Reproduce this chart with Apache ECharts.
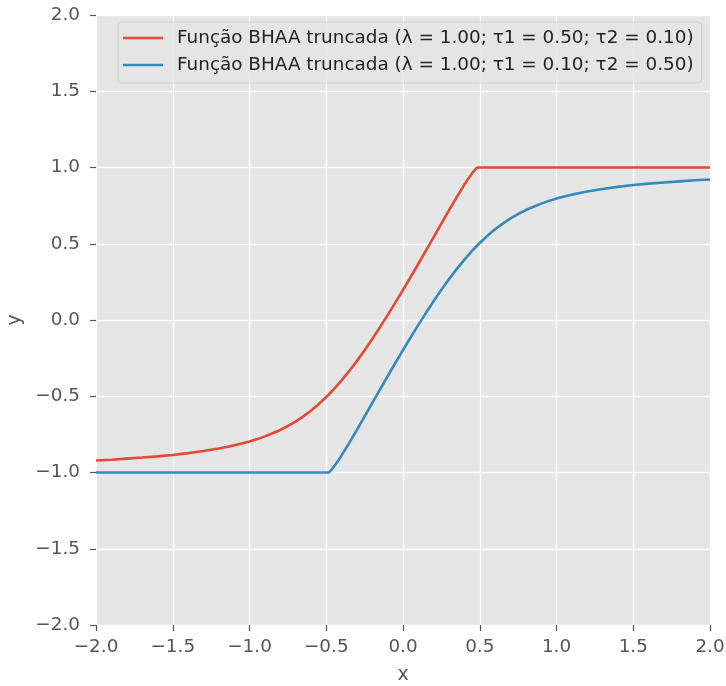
<!DOCTYPE html>
<html>
<head>
<meta charset="utf-8">
<script src="https://cdn.jsdelivr.net/npm/echarts@6/dist/echarts.min.js"></script>
<style>
html,body{margin:0;padding:0;background:#fff;}
#chart{width:726px;height:686px;}
</style>
</head>
<body>
<div id="chart"></div>
<script>
// x positions of the sampled points
const xs = [-2.0,-1.9,-1.8,-1.7,-1.6,-1.5,-1.4,-1.3,-1.2,
  -1.15,-1.1,-1.05,-1.0,-0.95,-0.9,-0.85,-0.8,-0.75,-0.7,-0.65,-0.6,-0.55,-0.5,
  -0.482,-0.48,-0.46,-0.44,-0.42,
  -0.4,-0.35,-0.3,-0.25,-0.2,-0.15,-0.1,-0.05,0.0,0.05,0.1,0.15,0.2,0.25,0.3,0.35,0.4,
  0.42,0.44,0.46,0.48,0.482,
  0.5,0.55,0.6,0.65,0.7,0.75,0.8,0.85,0.9,0.95,1.0,1.05,1.1,1.15,
  1.2,1.3,1.4,1.5,1.6,1.7,1.8,1.9,2.0];
// red: λ = 1.00; τ1 = 0.50; τ2 = 0.10
const redYs = [-0.921,-0.916,-0.909,-0.902,-0.894,-0.885,-0.873,-0.859,-0.843,
  -0.833,-0.822,-0.810,-0.796,-0.781,-0.763,-0.743,-0.721,-0.695,-0.666,-0.632,-0.595,-0.552,-0.505,
  -0.487,-0.485,-0.464,-0.442,-0.419,
  -0.396,-0.334,-0.268,-0.198,-0.124,-0.047,0.032,0.114,0.197,0.282,0.369,0.456,0.544,0.632,0.720,0.806,0.888,
  0.919,0.948,0.975,0.998,1.0,
  1.0,1.0,1.0,1.0,1.0,1.0,1.0,1.0,1.0,1.0,1.0,1.0,1.0,1.0,
  1.0,1.0,1.0,1.0,1.0,1.0,1.0,1.0,1.0];
// blue: λ = 1.00; τ1 = 0.10; τ2 = 0.50
const blueYs = [-1.0,-1.0,-1.0,-1.0,-1.0,-1.0,-1.0,-1.0,-1.0,
  -1.0,-1.0,-1.0,-1.0,-1.0,-1.0,-1.0,-1.0,-1.0,-1.0,-1.0,-1.0,-1.0,-1.0,
  -1.0,-0.998,-0.975,-0.948,-0.919,
  -0.888,-0.806,-0.720,-0.632,-0.544,-0.456,-0.369,-0.282,-0.197,-0.114,-0.032,0.047,0.124,0.198,0.268,0.334,0.396,
  0.419,0.442,0.464,0.485,0.487,
  0.505,0.552,0.595,0.632,0.666,0.695,0.721,0.743,0.763,0.781,0.796,0.810,0.822,0.833,
  0.843,0.859,0.873,0.885,0.894,0.902,0.909,0.916,0.921];
const seriesNames = [
  'Função BHAA truncada (λ = 1.00; τ1 = 0.50; τ2 = 0.10)',
  'Função BHAA truncada (λ = 1.00; τ1 = 0.10; τ2 = 0.50)'
];
const xTicks = [-2.0,-1.5,-1.0,-0.5,0.0,0.5,1.0,1.5,2.0];
const yTicks = [-2.0,-1.5,-1.0,-0.5,0.0,0.5,1.0,1.5,2.0];

const fmt = v => (v < 0 ? '\u2212' : '') + Math.abs(v).toFixed(1);
const FONT = 'DejaVu Sans';

const chart = echarts.init(document.getElementById('chart'), null, {renderer:'canvas'});
const axisCommon = {
  type: 'value',
  min: xTicks[0], max: xTicks[xTicks.length-1], interval: 0.5,
  axisLine: {show:false, onZero:false},
  axisTick: {show:true, length:6, lineStyle:{color:'#555', width:1.2}},
  axisLabel: {formatter: fmt, color:'#555', fontSize:18.4, fontFamily:FONT},
  splitLine: {show:true, lineStyle:{color:'#fff', width:1.3}},
  nameTextStyle: {color:'#555', fontSize:19, fontFamily:FONT}
};
chart.setOption({
  backgroundColor: '#fff',
  animation: false,
  grid: {left:96, top:15, width:614, height:610, show:true, backgroundColor:'#E5E5E5', borderWidth:0,
         containLabel:false, outerBoundsMode:'none'},
  xAxis: Object.assign({}, axisCommon, {name:'x', nameLocation:'middle', nameGap:41,
    axisLabel: Object.assign({}, axisCommon.axisLabel, {margin:13})}),
  yAxis: Object.assign({}, axisCommon, {name:'y', nameLocation:'middle', nameGap:60,
    min: yTicks[0], max: yTicks[yTicks.length-1],
    axisLabel: Object.assign({}, axisCommon.axisLabel, {margin:16})}),
  legend: {
    left: 118, top: 22, orient: 'vertical',
    padding: [5, 8, 7, 5],
    itemWidth: 40, itemHeight: 14, itemGap: 5,
    backgroundColor: 'rgba(229,229,229,0.8)',
    borderColor: 'rgba(204,204,204,0.8)', borderWidth: 1, borderRadius: 4,
    textStyle: {color:'#222', fontSize:18.4, fontFamily:FONT, lineHeight:22, padding:[0,0,0,9]},
    data: seriesNames.map(n => ({name:n, icon:'path://M0,0 L40,0 L40,2.6 L0,2.6 Z'}))
  },
  series: [
    {name: seriesNames[0], type:'line', showSymbol:false, smooth:false,
     data: xs.map((x,i)=>[x, redYs[i]]), lineStyle:{color:'#E24A33', width:2.6}, itemStyle:{color:'#E24A33'}},
    {name: seriesNames[1], type:'line', showSymbol:false, smooth:false,
     data: xs.map((x,i)=>[x, blueYs[i]]), lineStyle:{color:'#348ABD', width:2.6}, itemStyle:{color:'#348ABD'}}
  ]
});
</script>
</body>
</html>
